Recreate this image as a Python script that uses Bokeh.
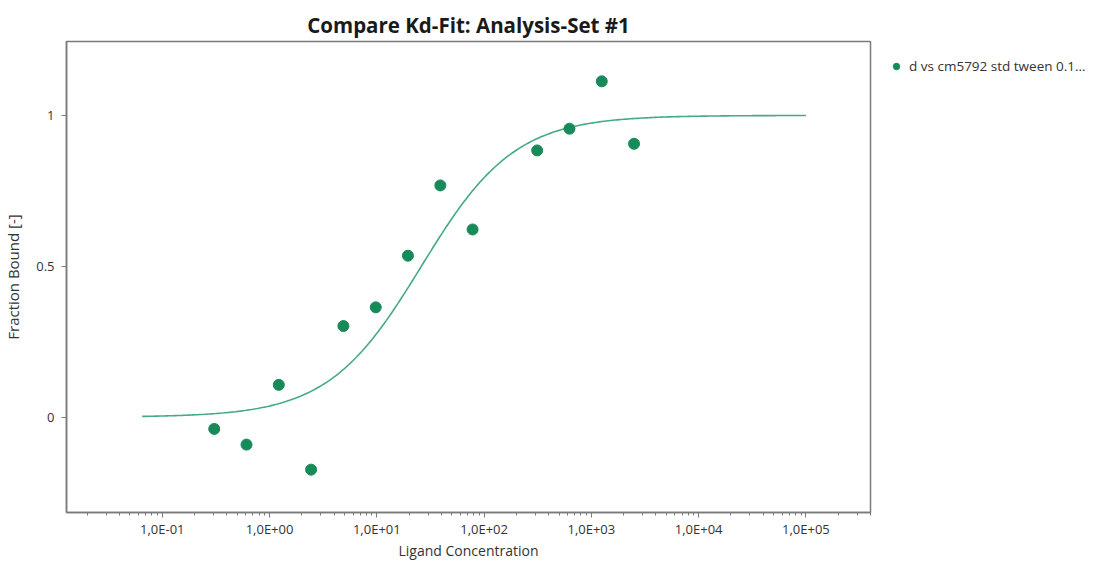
from bokeh.plotting import figure
from bokeh.layouts import row
from bokeh.models import (ColumnDataSource, Legend, LegendItem, FixedTicker, LogTicker,
                          CustomJSTickFormatter, Range1d)
from bokeh.embed import file_html
from bokeh.resources import INLINE
import numpy as np

# ---- data ----
concentration = [0.305, 0.61, 1.22, 2.44, 4.88, 9.77, 19.5, 39.1, 78.1, 312.5, 625, 1250, 2500]
fraction_bound = [-0.039, -0.091, 0.107, -0.174, 0.302, 0.364, 0.535, 0.768, 0.622,
                  0.884, 0.956, 1.113, 0.906]
series_name = "d vs cm5792 std tween 0.1\u2026"
# fitted model parameters (Kd fit)
kd_fit = 26.0
fit_lower = 0.0
fit_upper = 1.0
fit_x_start = 0.065
fit_x_end = 1.0e5

y_ticks = [0, 0.5, 1]

FONT = "Open Sans"
POINT_COLOR = "#178a59"
LINE_COLOR = "#45aa87"
FRAME_COLOR = "#7a7a7a"
TEXT_COLOR = "#333333"

fit_x = np.logspace(np.log10(fit_x_start), np.log10(fit_x_end), 300)
fit_y = fit_lower + (fit_upper - fit_lower) * fit_x / (kd_fit + fit_x)

p = figure(width=888, height=563, x_axis_type="log", output_backend="svg",
           toolbar_location=None,
           x_range=Range1d(0.0128, 4.0e5), y_range=Range1d(-0.316, 1.245),
           min_border_left=64, min_border_top=41, min_border_bottom=51,
           min_border_right=18, background_fill_color="white",
           border_fill_color="white")

p.title.text = "Compare Kd-Fit: Analysis-Set #1"
p.title.align = "center"
p.title.text_font = FONT
p.title.text_font_size = "20.5px"
p.title.text_font_style = "bold"
p.title.text_color = "#1a1a1a"
p.title.offset = 0
p.title.standoff = 6

p.grid.visible = False
p.outline_line_color = FRAME_COLOR
p.outline_line_width = 1.5

p.line(fit_x, fit_y, line_color=LINE_COLOR, line_width=1.6)
src = ColumnDataSource(dict(x=concentration, y=fraction_bound))
p.scatter("x", "y", source=src, size=11, fill_color=POINT_COLOR,
          line_color=POINT_COLOR)

# x axis
xa = p.xaxis[0]
xa.ticker = LogTicker(num_minor_ticks=10, desired_num_ticks=8)
xa.formatter = CustomJSTickFormatter(code="""
const e = Math.round(Math.log10(tick));
const m = tick / Math.pow(10, e);
const s = e < 0 ? '-' : '+';
const a = Math.abs(e);
return m.toFixed(1).replace('.', ',') + 'E' + s + (a < 10 ? '0' : '') + a;
""")
xa.axis_label = "Ligand Concentration"

# y axis
ya = p.yaxis[0]
ya.ticker = FixedTicker(ticks=y_ticks)
ya.formatter = CustomJSTickFormatter(code="return tick.toString();")
ya.axis_label = "Fraction Bound [-]"

for ax in (xa, ya):
    ax.axis_line_color = FRAME_COLOR
    ax.axis_line_width = 1.5
    ax.major_tick_line_color = FRAME_COLOR
    ax.minor_tick_line_color = FRAME_COLOR
    ax.major_tick_in = 0
    ax.minor_tick_in = 0
    ax.major_tick_out = 5
    ax.minor_tick_out = 3
    ax.major_label_text_font = FONT
    ax.major_label_text_font_size = "13px"
    ax.major_label_text_color = TEXT_COLOR
    ax.axis_label_text_font = FONT
    ax.axis_label_text_font_size = "14px"
    ax.axis_label_text_font_style = "normal"
    ax.axis_label_text_color = TEXT_COLOR
xa.major_label_standoff = 2
xa.axis_label_standoff = 0
ya.major_label_standoff = 7
ya.axis_label_standoff = 10
ya.axis_label_text_font_size = "15px"

# legend panel to the right of the chart (its view range holds no data,
# so only the legend entry itself is visible)
lf = figure(width=207, height=563, output_backend="svg", toolbar_location=None,
            min_border_left=0, min_border_right=0, min_border_top=0,
            min_border_bottom=0, x_axis_type=None, y_axis_type=None,
            x_range=Range1d(-20, -19), y_range=Range1d(-20, -19),
            outline_line_color=None, background_fill_color="white",
            border_fill_color="white")
lf.grid.visible = False
legend_glyph = lf.scatter("x", "y", source=src, size=10,
                          fill_color=POINT_COLOR, line_color=POINT_COLOR)
legend = Legend(items=[LegendItem(label=series_name, renderers=[legend_glyph])],
                location=(0, 437), border_line_color=None,
                background_fill_alpha=0, label_text_font=FONT,
                label_text_font_size="13.5px", label_text_color=TEXT_COLOR,
                glyph_width=16, glyph_height=16, margin=0, padding=3,
                label_standoff=5)
lf.add_layout(legend, "center")

layout = row(p, lf, spacing=0)
open("out.html", "w").write(file_html(layout, INLINE))
